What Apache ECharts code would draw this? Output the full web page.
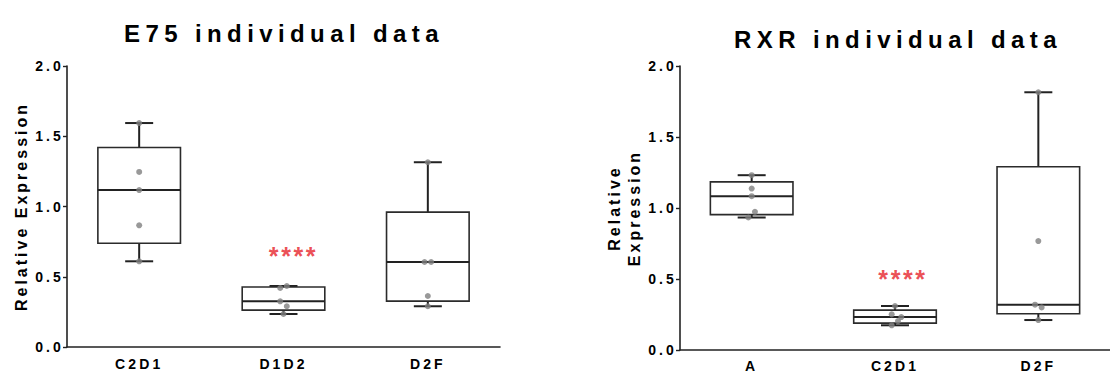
<!DOCTYPE html>
<html><head><meta charset="utf-8">
<script src="https://cdn.jsdelivr.net/npm/echarts@6/dist/echarts.min.js"></script>
<style>
html,body{margin:0;padding:0;background:#fff}
#c{width:1110px;height:374px}
#c text[style*="24px"]{letter-spacing:5.4px}
#c text[style*="16px"]{letter-spacing:3px}
#c text[style*="14px"]{letter-spacing:3.1px}
#c text[style*="25px"]{letter-spacing:2.6px}
</style></head><body><div id="c"></div>
<script>
// ---------- data ----------
const titles = ['E75 individual data', 'RXR individual data'];
const yAxisNames = ['Relative Expression', 'Relative\nExpression'];
const e75Categories = ['C2D1', 'D1D2', 'D2F'];
const rxrCategories = ['A', 'C2D1', 'D2F'];
const yTicks = [0, 0.5, 1.0, 1.5, 2.0];

// individual points per group
const e75_C2D1 = [1.594, 1.246, 1.117, 0.866, 0.610];
const e75_D1D2 = [0.434, 0.420, 0.325, 0.290, 0.235];
const e75_D2F  = [1.315, 0.605, 0.605, 0.363, 0.290];
const rxr_A    = [1.231, 1.137, 1.083, 0.973, 0.933];
const rxr_C2D1 = [0.310, 0.251, 0.232, 0.204, 0.174];
const rxr_D2F  = [1.815, 0.767, 0.319, 0.300, 0.211];

// significance marks
const sigText = '****';
const e75SigCategory = 'D1D2', e75SigY = 0.645;
const rxrSigCategory = 'C2D1', rxrSigY = 0.50;

// ---------- styling (horizontal nudge of overlapping dots, px) ----------
const e75Nudge = [[0,0,0,0,0],[3.3,-3.3,-3.3,3.3,0],[0,-3.3,3.3,0,0]];
const rxrNudge = [[0,0,0,3.3,-3.3],[0,-3.3,6.3,3,-3.3],[0,0,-3.3,3.3,0]];

const e75Groups = [e75_C2D1, e75_D1D2, e75_D2F];
const rxrGroups = [rxr_A, rxr_C2D1, rxr_D2F];

function median(a){const s=a.slice().sort((x,y)=>x-y);const n=s.length;return n%2?s[(n-1)/2]:(s[n/2-1]+s[n/2])/2;}
function boxStats(vals){
  const s = vals.slice().sort((a,b)=>a-b); const n = s.length;
  const half = Math.floor(n/2);
  const lower = s.slice(0, half), upper = s.slice(n - half);
  return [s[0], median(lower), median(s), median(upper), s[n-1]];
}

const FONT = "Arial, 'Liberation Sans', sans-serif";
const DARK = '#222';
const TEXT = '#000';

function renderBox(params, api){
  const x = api.value(0);
  const pMin = api.coord([x, api.value(1)]);
  const pQ1 = api.coord([x, api.value(2)]);
  const pMed = api.coord([x, api.value(3)]);
  const pQ3 = api.coord([x, api.value(4)]);
  const pMax = api.coord([x, api.value(5)]);
  const hw = 41.3, cw = 14, cx = pMed[0];
  const ls = {stroke: DARK, lineWidth: 2};
  return {type:'group', children:[
    {type:'line', shape:{x1:cx,y1:pQ3[1],x2:cx,y2:pMax[1]}, style:ls},
    {type:'line', shape:{x1:cx-cw,y1:pMax[1],x2:cx+cw,y2:pMax[1]}, style:ls},
    {type:'line', shape:{x1:cx,y1:pQ1[1],x2:cx,y2:pMin[1]}, style:ls},
    {type:'line', shape:{x1:cx-cw,y1:pMin[1],x2:cx+cw,y2:pMin[1]}, style:ls},
    {type:'rect', shape:{x:cx-hw,y:pQ3[1],width:2*hw,height:pQ1[1]-pQ3[1]}, style:{fill:'#fff',stroke:'#2b2b2b',lineWidth:1.6}},
    {type:'line', shape:{x1:cx-hw,y1:pMed[1],x2:cx+hw,y2:pMed[1]}, style:ls}
  ]};
}

function boxData(groups){ return groups.map((g,i)=>[i].concat(boxStats(g))); }
function dotData(groups, nudge){
  const out=[];
  groups.forEach((g,i)=>g.forEach((v,j)=>out.push({value:[i,v], symbolOffset:[nudge[i][j],0]})));
  return out;
}

const axisLabelStyle = {color:TEXT, fontWeight:'bold', fontSize:14, fontFamily:FONT};

function xAxisCfg(idx, cats, margin){
  return {type:'category', gridIndex:idx, data:cats,
    axisLine:{lineStyle:{color:DARK,width:1.6}},
    axisTick:{alignWithLabel:true,length:3,lineStyle:{color:DARK,width:1.4}},
    axisLabel:Object.assign({margin:margin}, axisLabelStyle)};
}
function yAxisCfg(idx, name, gap){
  return {type:'value', gridIndex:idx, min:yTicks[0], max:yTicks[yTicks.length-1], interval:yTicks[1]-yTicks[0],
    name:name, nameLocation:'middle', nameGap:gap,
    nameTextStyle:{color:TEXT,fontWeight:'bold',fontSize:16,fontFamily:FONT,lineHeight:20},
    splitLine:{show:false},
    axisLine:{show:true,lineStyle:{color:DARK,width:1.6}},
    axisTick:{show:true,length:4,lineStyle:{color:DARK,width:1.4}},
    axisLabel:Object.assign({margin:3, formatter:v=>v.toFixed(1)}, axisLabelStyle)};
}

const chart = echarts.init(document.getElementById('c'), null, {renderer:'svg'});
chart.setOption({
  animation:false,
  title:[
    {text:titles[0], left:279, top:16, textAlign:'center', textStyle:{color:TEXT,fontWeight:'bold',fontSize:24,fontFamily:FONT}},
    {text:titles[1], left:893, top:22, textAlign:'center', textStyle:{color:TEXT,fontWeight:'bold',fontSize:24,fontFamily:FONT}}
  ],
  grid:[
    {left:67, top:66, width:433, height:281},
    {left:680, top:66, width:433, height:284}
  ],
  xAxis:[xAxisCfg(0,e75Categories,10), xAxisCfg(1,rxrCategories,9)],
  yAxis:[yAxisCfg(0,yAxisNames[0],36), yAxisCfg(1,yAxisNames[1],36)],
  series:[
    {type:'custom', xAxisIndex:0, yAxisIndex:0, renderItem:renderBox, data:boxData(e75Groups), encode:{x:0,y:[1,2,3,4,5]}, z:2},
    {type:'custom', xAxisIndex:1, yAxisIndex:1, renderItem:renderBox, data:boxData(rxrGroups), encode:{x:0,y:[1,2,3,4,5]}, z:2},
    {type:'scatter', xAxisIndex:0, yAxisIndex:0, symbolSize:6, itemStyle:{color:'#7f7f7f'}, data:dotData(e75Groups,e75Nudge), z:3},
    {type:'scatter', xAxisIndex:1, yAxisIndex:1, symbolSize:6, itemStyle:{color:'#7f7f7f'}, data:dotData(rxrGroups,rxrNudge), z:3},
    {type:'scatter', xAxisIndex:0, yAxisIndex:0, symbolSize:1, itemStyle:{color:'rgba(0,0,0,0)'},
      label:{show:true,position:'inside',offset:[10,0],formatter:sigText,color:'#e62129',fontSize:25,fontWeight:'bold',fontFamily:FONT},
      data:[[e75SigCategory, e75SigY]], z:4},
    {type:'scatter', xAxisIndex:1, yAxisIndex:1, symbolSize:1, itemStyle:{color:'rgba(0,0,0,0)'},
      label:{show:true,position:'inside',offset:[8,0],formatter:sigText,color:'#e62129',fontSize:25,fontWeight:'bold',fontFamily:FONT},
      data:[[rxrSigCategory, rxrSigY]], z:4}
  ]
});
</script></body></html>
